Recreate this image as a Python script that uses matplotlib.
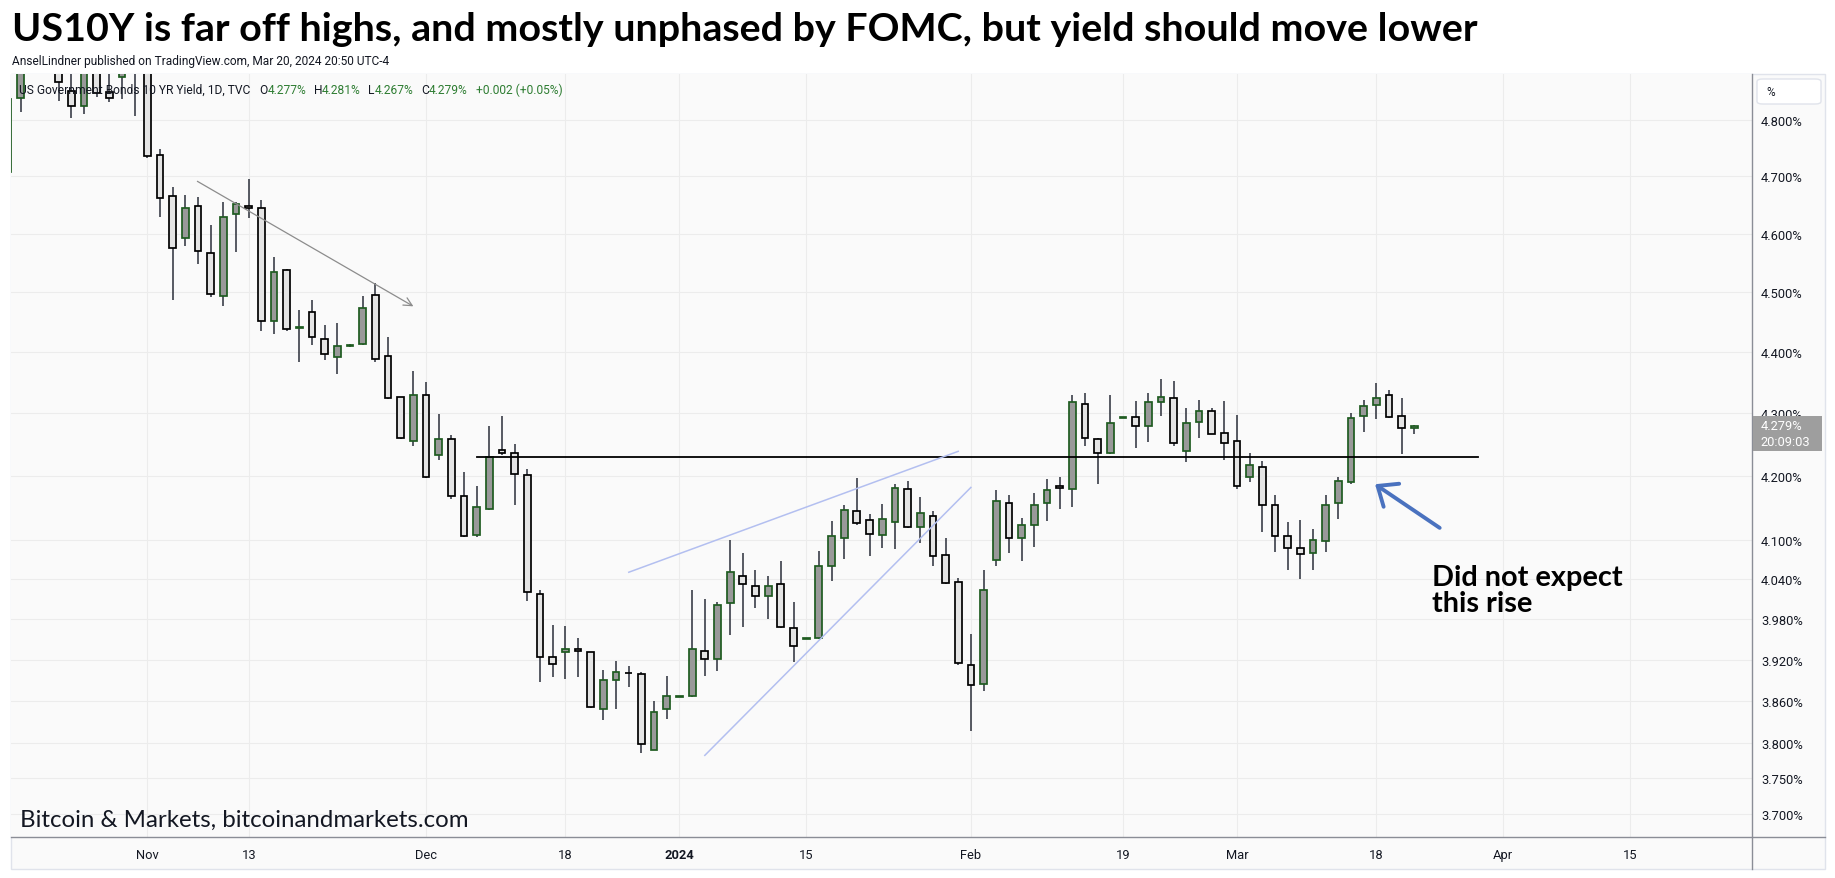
import numpy as np
import matplotlib
matplotlib.use("Agg")
import matplotlib.pyplot as plt
from matplotlib import font_manager
from matplotlib.patches import Rectangle, FancyBboxPatch
from matplotlib.lines import Line2D
from matplotlib.ticker import NullLocator, NullFormatter

# ---------------- data (US10Y daily, bar index 0 = 1 Nov 2023) ----------------
bar_index = list(range(-11, 101))

opens = [4.707, 4.840, 4.900, 4.990, 4.920, 4.853, 4.826, 4.950, 4.851, 4.878, 4.890,
         4.930, 4.738, 4.665, 4.592, 4.647, 4.566, 4.493, 4.634, 4.648, 4.644,
         4.451, 4.537, 4.439, 4.466, 4.422, 4.391, 4.410, 4.413, 4.495, 4.393,
         4.326, 4.255, 4.330, 4.233, 4.258, 4.168, 4.108, 4.148, 4.241, 4.236,
         4.201, 4.018, 3.924, 3.931, 3.936, 3.931, 3.849, 3.890, 3.901, 3.899,
         3.790, 3.848, 3.866, 3.867, 3.933, 3.921, 4.004, 4.046, 4.030, 4.015,
         4.033, 3.967, 3.951, 3.952, 4.061, 4.104, 4.145, 4.131, 4.108, 4.128,
         4.179, 4.120, 4.137, 4.078, 4.036, 3.913, 3.884, 4.069, 4.158, 4.103,
         4.123, 4.158, 4.185, 4.179, 4.315, 4.258, 4.236, 4.293, 4.294, 4.279,
         4.319, 4.324, 4.239, 4.286, 4.303, 4.268, 4.255, 4.198, 4.214, 4.154,
         4.106, 4.088, 4.081, 4.098, 4.157, 4.190, 4.295, 4.313, 4.329, 4.295,
         4.277]

highs = [4.860, 4.930, 5.000, 5.000, 5.020, 4.890, 4.960, 4.960, 4.895, 4.910, 4.940,
         4.950, 4.749, 4.681, 4.667, 4.663, 4.615, 4.654, 4.654, 4.695, 4.658,
         4.559, 4.540, 4.470, 4.487, 4.445, 4.448, 4.413, 4.493, 4.516, 4.424,
         4.327, 4.369, 4.350, 4.298, 4.265, 4.206, 4.184, 4.280, 4.296, 4.251,
         4.211, 4.024, 3.972, 3.970, 3.952, 3.932, 3.905, 3.919, 3.911, 3.902,
         3.860, 3.897, 3.867, 4.024, 4.011, 4.006, 4.101, 4.080, 4.054, 4.045,
         4.068, 4.006, 3.952, 4.083, 4.130, 4.154, 4.197, 4.140, 4.156, 4.187,
         4.192, 4.167, 4.145, 4.103, 4.042, 3.958, 4.054, 4.178, 4.170, 4.135,
         4.173, 4.195, 4.198, 4.330, 4.333, 4.261, 4.330, 4.294, 4.320, 4.333,
         4.356, 4.352, 4.308, 4.321, 4.308, 4.320, 4.297, 4.236, 4.223, 4.170,
         4.128, 4.131, 4.117, 4.170, 4.198, 4.300, 4.321, 4.349, 4.337, 4.325,
         4.281]

lows = [4.700, 4.815, 4.890, 4.890, 4.834, 4.804, 4.811, 4.841, 4.832, 4.838, 4.808,
        4.733, 4.629, 4.486, 4.579, 4.548, 4.491, 4.476, 4.569, 4.626, 4.435,
        4.430, 4.434, 4.383, 4.412, 4.387, 4.364, 4.409, 4.412, 4.383, 4.323,
        4.258, 4.248, 4.197, 4.226, 4.164, 4.105, 4.105, 4.147, 4.233, 4.155,
        4.008, 3.888, 3.895, 3.892, 3.895, 3.850, 3.832, 3.849, 3.880, 3.785,
        3.789, 3.834, 3.866, 3.866, 3.897, 3.903, 3.956, 3.968, 3.997, 3.980,
        3.967, 3.917, 3.951, 3.951, 4.038, 4.071, 4.124, 4.076, 4.088, 4.087,
        4.119, 4.095, 4.060, 4.033, 3.913, 3.817, 3.875, 4.061, 4.081, 4.068,
        4.089, 4.129, 4.149, 4.152, 4.248, 4.188, 4.235, 4.293, 4.245, 4.254,
        4.296, 4.248, 4.222, 4.260, 4.266, 4.226, 4.180, 4.191, 4.113, 4.082,
        4.055, 4.040, 4.055, 4.082, 4.132, 4.188, 4.270, 4.291, 4.293, 4.234,
        4.267]

closes = [4.838, 4.900, 4.990, 4.920, 4.869, 4.826, 4.950, 4.849, 4.840, 4.890, 4.930,
          4.735, 4.661, 4.575, 4.645, 4.570, 4.496, 4.628, 4.652, 4.644, 4.451,
          4.534, 4.438, 4.441, 4.425, 4.396, 4.410, 4.412, 4.473, 4.388, 4.324,
          4.260, 4.329, 4.198, 4.258, 4.168, 4.106, 4.151, 4.230, 4.236, 4.203,
          4.021, 3.924, 3.914, 3.936, 3.933, 3.851, 3.891, 3.902, 3.900, 3.798,
          3.844, 3.867, 3.867, 3.936, 3.921, 4.001, 4.051, 4.033, 4.015, 4.030,
          3.968, 3.941, 3.952, 4.061, 4.106, 4.146, 4.126, 4.109, 4.132, 4.181,
          4.120, 4.142, 4.076, 4.034, 3.916, 3.883, 4.024, 4.160, 4.103, 4.123,
          4.154, 4.178, 4.181, 4.318, 4.260, 4.236, 4.284, 4.294, 4.279, 4.319,
          4.327, 4.252, 4.284, 4.303, 4.267, 4.252, 4.184, 4.217, 4.154, 4.106,
          4.088, 4.079, 4.100, 4.154, 4.192, 4.292, 4.311, 4.324, 4.294, 4.277,
          4.279]

x_tick_pos = [0, 8, 22, 33, 42, 52, 65, 77, 86, 97, 107, 117]
x_tick_labels = ["Nov", "13", "Dec", "18", "2024", "15", "Feb", "19", "Mar", "18", "Apr", "15"]
y_ticks = [4.80, 4.70, 4.60, 4.50, 4.40, 4.30, 4.20, 4.10, 4.04, 3.98, 3.92, 3.86, 3.80, 3.75, 3.70]
y_tick_labels = [f"{v:.3f}%" for v in y_ticks]

support_level = 4.230
support_span = [26, 105]
trend_start = (3.95, 4.691)
trend_end = (21.0, 4.476)
wedge_upper = [(38, 4.051), (64, 4.239)]
wedge_lower = [(44, 3.782), (65, 4.182)]
note_tail = (102.0, 4.119)
note_tip = (96.9, 4.187)

title = "US10Y is far off highs, and mostly unphased by FOMC, but yield should move lower"
subtitle = "AnselLindner published on TradingView.com, Mar 20, 2024 20:50 UTC-4"
symbol_desc = "US Government Bonds 10 YR Yield, 1D, TVC"
watermark = "Bitcoin & Markets, bitcoinandmarkets.com"
note_lines = ["Did not expect", "this rise"]
countdown = "20:09:03"

# ---------------- figure setup ----------------
W, H, DPI = 1835, 879, 100
fig = plt.figure(figsize=(W / DPI, H / DPI), dpi=DPI, facecolor="white")
renderer = fig.canvas.get_renderer()

avail = {f.name for f in font_manager.fontManager.ttflist}
NARROW = "Liberation Sans Narrow" if "Liberation Sans Narrow" in avail else "Lato"
UI = "Roboto" if "Roboto" in avail else "DejaVu Sans"
DARK = "#131722"
GREEN = "#2e7d32"


def fx(px):
    return px / W


def fy(py):
    return 1 - py / H


def fit(t, width_px):
    bb = t.get_window_extent(renderer=renderer)
    t.set_fontsize(t.get_fontsize() * width_px / bb.width)
    return t


def fline(x0, y0, x1, y1, color, lw, z=6):
    fig.add_artist(Line2D([fx(x0), fx(x1)], [fy(y0), fy(y1)], transform=fig.transFigure,
                          color=color, lw=lw, zorder=z))


# chart frame background
fig.add_artist(Rectangle((fx(11), fy(870)), (1825 - 11) / W, (870 - 75.4) / H,
                         transform=fig.transFigure, facecolor="#fafafa",
                         edgecolor="#e0e3eb", lw=1.0, zorder=-5))

ax = fig.add_axes([fx(11), fy(838), (1752 - 11) / W, (838 - 75.4) / H])
ax.set_facecolor("#fafafa")
ax.set_yscale("log")
ax.set_ylim(3.6679, 4.8830)
ax.set_xlim(-10.76, 126.65)
for s in ax.spines.values():
    s.set_visible(False)

ax.set_yticks(y_ticks)
ax.set_yticklabels(y_tick_labels)
ax.yaxis.set_minor_locator(NullLocator())
ax.yaxis.set_minor_formatter(NullFormatter())
ax.yaxis.tick_right()
ax.tick_params(axis="y", length=0, pad=6.5, labelsize=9.3, labelcolor=DARK)
ax.set_xticks(x_tick_pos)
ax.set_xticklabels(x_tick_labels)
ax.tick_params(axis="x", length=0, pad=8, labelsize=9.3, labelcolor=DARK)
for t in ax.get_yticklabels() + ax.get_xticklabels():
    t.set_fontfamily(UI)
for t in ax.get_xticklabels():
    if t.get_text() == "2024":
        t.set_fontweight("bold")
ax.grid(True, color="#ececec", lw=0.8)
ax.set_axisbelow(True)

# ---------------- candles ----------------
xs = np.array(bar_index, dtype=float)
o = np.array(opens)
h = np.array(highs)
l = np.array(lows)
c = np.array(closes)
up = c >= o
ax.vlines(xs, l, h, color="#2a2e39", lw=1.1, zorder=2)
bottom = np.minimum(o, c)
height = np.maximum(np.abs(c - o), 0.0006)
ax.bar(xs[up], height[up], bottom=bottom[up], width=0.53, color="#999999",
       edgecolor="#1e5b20", linewidth=1.25, zorder=3)
ax.bar(xs[~up], height[~up], bottom=bottom[~up], width=0.53, color="#e4e4e4",
       edgecolor="#000000", linewidth=1.25, zorder=3)

# ---------------- drawings ----------------
ax.plot(support_span, [support_level, support_level], color="black", lw=1.3, zorder=4)
ax.annotate("", xy=trend_end, xytext=trend_start,
            arrowprops=dict(arrowstyle="->,head_length=0.6,head_width=0.3",
                            color="#8c8c8c", lw=0.9, shrinkA=0, shrinkB=0), zorder=4)
for seg in (wedge_upper, wedge_lower):
    ax.plot([seg[0][0], seg[1][0]], [seg[0][1], seg[1][1]], color="#b3bff0", lw=1.1, zorder=4)
ax.annotate("", xy=note_tip, xytext=note_tail,
            arrowprops=dict(arrowstyle="->,head_length=1.2,head_width=1.0",
                            color="#4a72bf", lw=2.8, shrinkA=0, shrinkB=0), zorder=5)

# ---------------- axis frame lines ----------------
fline(11, 838, 1825, 838, "#8a8d96", 1.0)
fline(1752, 75.4, 1752, 870, "#8a8d96", 1.0)

# "%" box on the price scale
fig.add_artist(FancyBboxPatch((fx(1757), fy(105)), (1821 - 1757) / W, (105 - 80) / H,
                              boxstyle="round,pad=0,rounding_size=0.003",
                              transform=fig.transFigure, facecolor="white",
                              edgecolor="#e0e3eb", lw=1.0, zorder=6))
fig.text(fx(1766), fy(93), "%", fontsize=8.5, family=UI, color=DARK, va="center", zorder=7)

# last-price label
last_price = closes[-1]
fig.add_artist(Rectangle((fx(1753), fy(452)), (1822 - 1753) / W, (452 - 417) / H,
                         transform=fig.transFigure, facecolor="#9e9e9e",
                         edgecolor="none", zorder=8))
fig.text(fx(1761), fy(426.5), f"{last_price:.3f}%", fontsize=9.3, family=UI,
         color="white", va="center", zorder=9)
fig.text(fx(1760), fy(443), countdown, fontsize=9.3, family=UI,
         color="white", va="center", zorder=9)

# ---------------- texts ----------------
t = fig.text(fx(12), fy(41), title, fontsize=28, fontweight="bold", family=NARROW,
             color="black", va="baseline")
fit(t, 1463)
t = fig.text(fx(12), fy(61), subtitle, fontsize=8, family=UI, color=DARK, va="center")
fit(t, 380)

chg = closes[-1] - closes[-2]
pct = chg / closes[-2] * 100
parts = [(symbol_desc, DARK, 0),
         ("O", DARK, 8.5), (f"{opens[-1]:.3f}%", GREEN, 0),
         ("H", DARK, 7.5), (f"{highs[-1]:.3f}%", GREEN, 0),
         ("L", DARK, 7.5), (f"{lows[-1]:.3f}%", GREEN, 0),
         ("C", DARK, 7.5), (f"{closes[-1]:.3f}%", GREEN, 0),
         (f"{chg:+.3f} ({pct:+.2f}%)", GREEN, 8.0)]
t0 = fig.text(fx(19.3), fy(90), symbol_desc, fontsize=8.3, family=UI, color=DARK,
              va="center", zorder=7)
fit(t0, 231)
info_size = t0.get_fontsize()
t0.remove()
xpos = 19.3
for txt, col, gap in parts:
    xpos += gap
    tt = fig.text(fx(xpos), fy(90), txt, fontsize=info_size, family=UI, color=col,
                  va="center", zorder=7)
    xpos += tt.get_window_extent(renderer=renderer).width

t = fig.text(fx(20), fy(827), watermark, fontsize=17, family=NARROW, color=DARK,
             va="baseline", zorder=7)
fit(t, 448)

t1 = fig.text(fx(1431.7), fy(586), note_lines[0], fontsize=20, fontweight="bold",
              family="Lato", color="black", va="baseline", zorder=7)
fit(t1, 191)
fig.text(fx(1431.7), fy(612), note_lines[1], fontsize=t1.get_fontsize(), fontweight="bold",
         family="Lato", color="black", va="baseline", zorder=7)

fig.savefig("out.png", dpi=DPI, facecolor="white")
